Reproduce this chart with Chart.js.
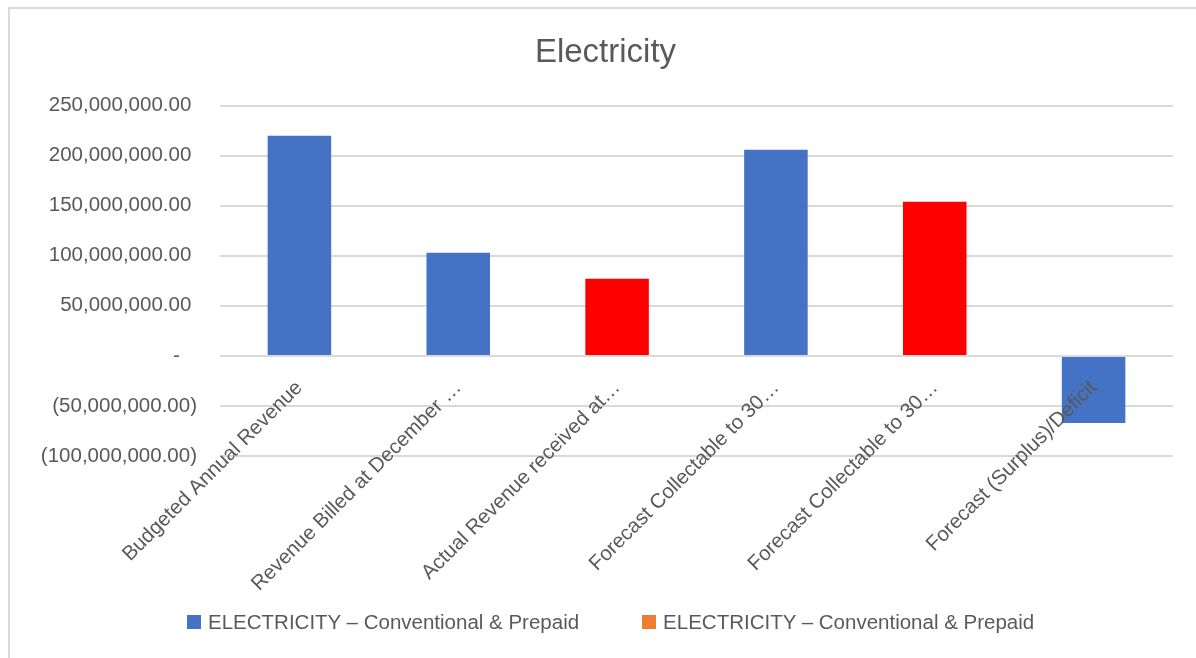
<!DOCTYPE html>
<html>
<head>
<meta charset="utf-8">
<title>Electricity</title>
<script src="https://cdn.jsdelivr.net/npm/chart.js@4/dist/chart.umd.min.js"></script>
<style>
    html, body { margin: 0; padding: 0; background: #fff; overflow: hidden; }
    #wrap { position: relative; width: 1196px; height: 658px; overflow: hidden; }
    #frame {
        position: absolute; left: 8px; top: 7px; width: 1300px; height: 800px;
        border-left: 2px solid #d9d9d9; border-top: 2px solid #d9d9d9;
    }
    #chart { position: absolute; left: 0; top: 0; }
    #legend {
        position: absolute; left: 187px; top: 610px;
        display: flex; align-items: center;
        font-family: 'Liberation Sans', Arial, sans-serif; font-size: 20.5px;
        line-height: 24px; color: #595959; white-space: nowrap;
    }
    .item { display: flex; align-items: center; margin-right: 63px; }
    .swatch { width: 14px; height: 14px; margin-right: 7px; }
</style>
</head>
<body>
<div id="wrap">
    <div id="frame"></div>
    <canvas id="chart" width="1196" height="658"></canvas>
    <div id="legend"></div>
</div>
<script>
const categories = [
    'Budgeted Annual Revenue',
    'Revenue Billed at December …',
    'Actual Revenue received at…',
    'Forecast Collectable to 30…',
    'Forecast Collectable to 30…',
    'Forecast (Surplus)/Deficit'
];
const values = [220000000, 103000000, 77000000, 206000000, 154000000, -67000000];
// bars shown in red (collections)
const highlighted = [2, 4];
const seriesNames = ['ELECTRICITY – Conventional & Prepaid', 'ELECTRICITY – Conventional & Prepaid'];

const BLUE = '#4472C4';
const RED = '#FF0000';
const ORANGE = '#ED7D31';
const TEXT = '#595959';
const GRID = '#d9d9d9';
const FONT = "'Liberation Sans', Arial, sans-serif";

function money(n) {
    return n.toLocaleString('en-US', { minimumFractionDigits: 2, maximumFractionDigits: 2 });
}

// accounting style: (negatives), dash for zero
function yLabel(v) {
    if (v === 0) return '-\u2007\u2008';
    if (v < 0) return '(' + money(-v) + ')';
    return money(v) + '\u2008';
}

const ctx = document.getElementById('chart').getContext('2d');
const chart = new Chart(ctx, {
    type: 'bar',
    data: {
        labels: categories,
        datasets: [
            {
                label: seriesNames[0],
                data: values,
                backgroundColor: c => highlighted.includes(c.dataIndex) ? RED : BLUE,
                legendColor: BLUE
            },
            {
                label: seriesNames[1],
                data: categories.map(() => null),
                backgroundColor: ORANGE,
                legendColor: ORANGE
            }
        ]
    },
    options: {
        responsive: false,
        animation: false,
        layout: { padding: { top: 10, left: 38, right: 23, bottom: 202 } },
        datasets: {
            bar: { grouped: false, barPercentage: 0.4, categoryPercentage: 1.0 }
        },
        plugins: {
            legend: { display: false },
            tooltip: { enabled: false },
            title: {
                display: true,
                text: 'Electricity',
                color: TEXT,
                font: { family: FONT, size: 33, weight: 'normal' },
                padding: { top: 23, bottom: 33 }
            }
        },
        scales: {
            x: {
                // category labels hang from the zero line, drawn over the bars
                position: { y: 0 },
                grid: { display: false, drawTicks: false },
                border: { display: false },
                ticks: {
                    z: 1,
                    color: TEXT,
                    font: { family: FONT, size: 20.5 },
                    autoSkip: false,
                    minRotation: 45,
                    maxRotation: 45,
                    padding: 20
                }
            },
            y: {
                min: -100000000,
                max: 250000000,
                afterFit: scale => { scale.width = 182; },
                grid: { color: GRID, lineWidth: 2, drawTicks: false },
                border: { display: false },
                ticks: {
                    stepSize: 50000000,
                    color: TEXT,
                    font: { family: FONT, size: 20.5 },
                    padding: 23,
                    callback: yLabel
                }
            }
        }
    }
});

// Legend
const legend = document.getElementById('legend');
chart.data.datasets.forEach(ds => {
    const item = document.createElement('div');
    item.className = 'item';
    const sw = document.createElement('span');
    sw.className = 'swatch';
    sw.style.background = ds.legendColor;
    const txt = document.createElement('span');
    txt.textContent = ds.label;
    item.appendChild(sw);
    item.appendChild(txt);
    legend.appendChild(item);
});
</script>
</body>
</html>
